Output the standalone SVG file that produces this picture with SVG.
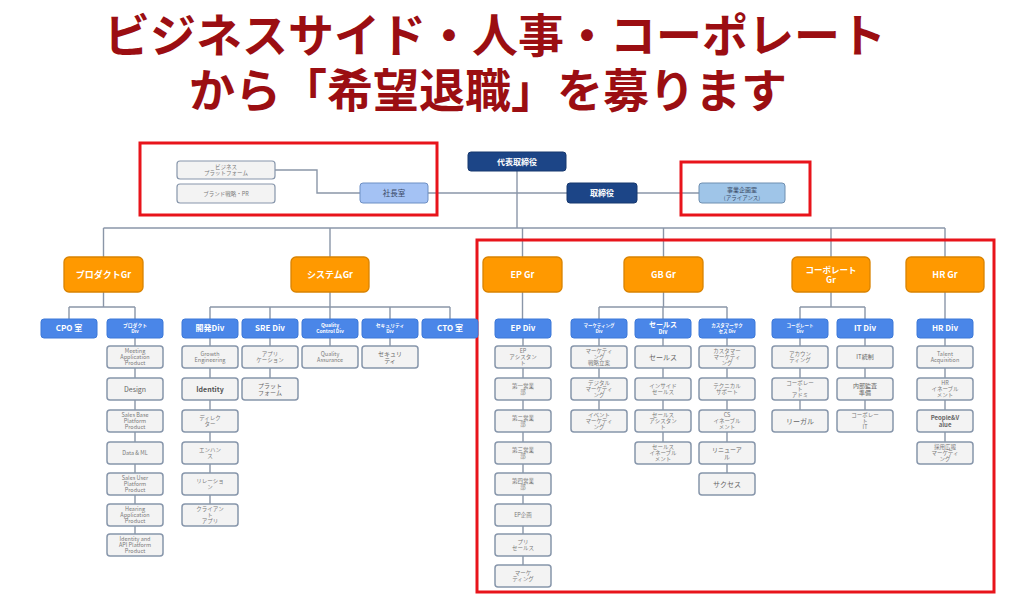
<svg xmlns="http://www.w3.org/2000/svg" width="1032" height="606" viewBox="0 0 1032 606">
<style>
text{font-family:"Noto Sans CJK JP","Noto Sans",sans-serif;text-anchor:middle}
.title{font-size:46px;font-weight:700;fill:#9b0e12}
.navy{fill:#1c4587;stroke:#16386e;stroke-width:1}
.wt{fill:#fff;font-weight:700}
.gr{fill:#ff9900;stroke:#d98300;stroke-width:1.3}
.div{fill:#4a86e8;stroke:#3c78d8;stroke-width:1}
.ch{fill:#f3f3f3;stroke:#8796ab;stroke-width:1.5}
.side{fill:#f3f3f3;stroke:#8796ab;stroke-width:1.2}
.t{font-size:5.5px;fill:#7a7a7a}
.tb{font-size:7px;fill:#555;font-weight:700}
.tl{font-size:7px;fill:#666}
.tm{font-size:6px;fill:#666}
.red{fill:none;stroke:#e8141b;stroke-width:3}
.ln{fill:none;stroke:#8a96a8;stroke-width:1.4}
</style>

<text class="title" x="495" y="52"><tspan x="495">ビジネスサイド・人事・コーポレート</tspan><tspan x="488" dy="55">から「希望退職」を募ります</tspan></text>

<g id="connectors">
<path class="ln" d="M275 170 H317 V193 H360"/>
<path class="ln" d="M428 193 H567"/>
<path class="ln" d="M637 193 H699"/>
<path class="ln" d="M517 171 V228"/>
<path class="ln" d="M103.5 228 H945"/>
<path class="ln" d="M103.5 228 V257 M330 228 V257 M522.5 228 V257 M663.5 228 V257 M831 228 V257 M945 228 V257"/>
<path class="ln" d="M103.5 292 V307 M69 307 H135 M69 307 V319 M135 307 V319"/>
<path class="ln" d="M330 292 V307 M210 307 H450 M210 307 V319 M270 307 V319 M330 307 V319 M390 307 V319 M450 307 V319"/>
<path class="ln" d="M522.5 292 V319"/>
<path class="ln" d="M663.5 292 V307 M599 307 H727 M599 307 V319 M663 307 V319 M727 307 V319"/>
<path class="ln" d="M831 292 V307 M800 307 H865 M800 307 V319 M865 307 V319"/>
<path class="ln" d="M945 292 V319"/>
<path class="ln" d="M135 338 V534 M210 338 V504 M270 338 V378 M330 338 V346 M390 338 V346 M523 338 V565 M599 338 V410 M663 338 V442 M727 338 V473 M800 338 V410 M865 338 V410 M945 338 V442"/>
</g>

<g id="red-frames">
<rect class="red" x="140" y="143" width="297" height="72"/>
<rect class="red" x="681" y="162" width="129" height="53"/>
<rect class="red" x="477" y="240" width="517" height="352"/>
</g>

<g id="top">
<g id="n-ceo"><rect class="navy" x="468" y="152" width="98" height="19" rx="3"/><text class="wt" x="517" y="164.5" font-size="8">代表取締役</text></g>
<g id="n-director"><rect class="navy" x="567" y="183" width="70" height="20" rx="3"/><text class="wt" x="602" y="196" font-size="8">取締役</text></g>
<g id="n-bizplan"><rect x="699" y="183" width="86" height="20" rx="3" fill="#9fc5e8" stroke="#6f8fb0" stroke-width="1"/><text x="742" y="191.5" font-size="6" fill="#3a4a66"><tspan x="742">事業企画室</tspan><tspan x="742" dy="8" font-size="5.5">(アライアンス)</tspan></text></g>
<g id="n-president"><rect x="360" y="183" width="68" height="20" rx="3" fill="#a4c2f4" stroke="#6d8fc4" stroke-width="1"/><text x="394" y="195.8" font-size="7.5" fill="#3a4a66">社長室</text></g>
<g id="n-bizpf"><rect class="side" x="177" y="161" width="98" height="18" rx="3"/><text class="t" x="226" y="168.5"><tspan x="226">ビジネス</tspan><tspan x="226" dy="6.3">プラットフォーム</tspan></text></g>
<g id="n-brand"><rect class="side" x="177" y="184" width="98" height="19" rx="3"/><text class="t" x="226" y="195.5">ブランド戦略・PR</text></g>
</g>

<g id="groups">
<g id="g-product"><rect class="gr" x="64" y="257" width="79" height="35" rx="5"/><text class="wt" x="103.5" y="277.6" font-size="9">プロダクトGr</text></g>
<g id="g-system"><rect class="gr" x="291" y="257" width="78" height="35" rx="5"/><text class="wt" x="330" y="277.6" font-size="9">システムGr</text></g>
<g id="g-ep"><rect class="gr" x="483" y="257" width="79" height="35" rx="5"/><text class="wt" x="522.5" y="277.6" font-size="9">EP Gr</text></g>
<g id="g-gb"><rect class="gr" x="624" y="257" width="79" height="35" rx="5"/><text class="wt" x="663.5" y="277.6" font-size="9">GB Gr</text></g>
<g id="g-corp"><rect class="gr" x="792" y="257" width="78" height="35" rx="5"/><text class="wt" x="831" y="272.5" font-size="8.5"><tspan x="831">コーポレート</tspan><tspan x="831" dy="10">Gr</tspan></text></g>
<g id="g-hr"><rect class="gr" x="906" y="257" width="78" height="35" rx="5"/><text class="wt" x="945" y="277.6" font-size="9">HR Gr</text></g>
</g>

<g id="divs">
<g id="d-cpo"><rect class="div" x="41" y="319" width="56" height="19" rx="3"/><text class="wt" x="69" y="331.3" font-size="8">CPO 室</text></g>
<g id="d-product"><rect class="div" x="107" y="319" width="56" height="19" rx="3"/><text class="wt" x="135" y="327.4" font-size="4.8"><tspan x="135">プロダクト</tspan><tspan x="135" dy="5.5">Div</tspan></text></g>
<g id="d-dev"><rect class="div" x="182" y="319" width="56" height="19" rx="3"/><text class="wt" x="210" y="331.3" font-size="8">開発Div</text></g>
<g id="d-sre"><rect class="div" x="242" y="319" width="56" height="19" rx="3"/><text class="wt" x="270" y="331.3" font-size="8">SRE Div</text></g>
<g id="d-qc"><rect class="div" x="302" y="319" width="56" height="19" rx="3"/><text class="wt" x="330" y="327.4" font-size="5"><tspan x="330">Quality</tspan><tspan x="330" dy="5.6">Control Div</tspan></text></g>
<g id="d-sec"><rect class="div" x="362" y="319" width="56" height="19" rx="3"/><text class="wt" x="390" y="327.4" font-size="4.8"><tspan x="390">セキュリティ</tspan><tspan x="390" dy="5.5">Div</tspan></text></g>
<g id="d-cto"><rect class="div" x="422" y="319" width="56" height="19" rx="3"/><text class="wt" x="450" y="331.3" font-size="8">CTO 室</text></g>
<g id="d-ep"><rect class="div" x="495" y="319" width="56" height="19" rx="3"/><text class="wt" x="523" y="331.3" font-size="8">EP Div</text></g>
<g id="d-mkt"><rect class="div" x="571" y="319" width="56" height="19" rx="3"/><text class="wt" x="599" y="327.4" font-size="4.5"><tspan x="599">マーケティング</tspan><tspan x="599" dy="5.5">Div</tspan></text></g>
<g id="d-sales"><rect class="div" x="635" y="319" width="56" height="19" rx="3"/><text class="wt" x="663" y="327" font-size="7"><tspan x="663">セールス</tspan><tspan x="663" dy="7" font-size="5.5">Div</tspan></text></g>
<g id="d-cs"><rect class="div" x="699" y="319" width="56" height="19" rx="3"/><text class="wt" x="727" y="327.4" font-size="4.5"><tspan x="727">カスタマーサク</tspan><tspan x="727" dy="5.5">セス Div</tspan></text></g>
<g id="d-corp"><rect class="div" x="772" y="319" width="56" height="19" rx="3"/><text class="wt" x="800" y="327.4" font-size="4.5"><tspan x="800">コーポレート</tspan><tspan x="800" dy="5.5">Div</tspan></text></g>
<g id="d-it"><rect class="div" x="837" y="319" width="56" height="19" rx="3"/><text class="wt" x="865" y="331.3" font-size="8">IT Div</text></g>
<g id="d-hr"><rect class="div" x="917" y="319" width="56" height="19" rx="3"/><text class="wt" x="945" y="331.3" font-size="8">HR Div</text></g>
</g>

<g id="product-children">
<g id="c-p1"><rect class="ch" x="107" y="346" width="56" height="22" rx="3"/><text class="t" x="135" y="352.6"><tspan x="135">Meeting</tspan><tspan x="135" dy="6.3">Application</tspan><tspan x="135" dy="6.3">Product</tspan></text></g>
<g id="c-p2"><rect class="ch" x="107" y="378" width="56" height="22" rx="3"/><text class="tl" x="135" y="391.5">Design</text></g>
<g id="c-p3"><rect class="ch" x="107" y="410" width="56" height="22" rx="3"/><text class="t" x="135" y="416.6"><tspan x="135">Sales Base</tspan><tspan x="135" dy="6.3">Platform</tspan><tspan x="135" dy="6.3">Product</tspan></text></g>
<g id="c-p4"><rect class="ch" x="107" y="442" width="56" height="22" rx="3"/><text class="t" x="135" y="454.9">Data &amp; ML</text></g>
<g id="c-p5"><rect class="ch" x="107" y="473" width="56" height="22" rx="3"/><text class="t" x="135" y="479.6"><tspan x="135">Sales User</tspan><tspan x="135" dy="6.3">Platform</tspan><tspan x="135" dy="6.3">Product</tspan></text></g>
<g id="c-p6"><rect class="ch" x="107" y="504" width="56" height="22" rx="3"/><text class="t" x="135" y="510.6"><tspan x="135">Hearing</tspan><tspan x="135" dy="6.3">Application</tspan><tspan x="135" dy="6.3">Product</tspan></text></g>
<g id="c-p7"><rect class="ch" x="107" y="534" width="56" height="22" rx="3"/><text class="t" x="135" y="540.6"><tspan x="135">Identity and</tspan><tspan x="135" dy="6.3">API Platform</tspan><tspan x="135" dy="6.3">Product</tspan></text></g>
</g>

<g id="system-children">
<g id="c-d1"><rect class="ch" x="182" y="346" width="56" height="22" rx="3"/><text class="t" x="210" y="355.75"><tspan x="210">Growth</tspan><tspan x="210" dy="6.3">Engineering</tspan></text></g>
<g id="c-d2"><rect class="ch" x="182" y="378" width="56" height="22" rx="3"/><text class="tb" x="210" y="391.5">Identity</text></g>
<g id="c-d3"><rect class="ch" x="182" y="410" width="56" height="22" rx="3"/><text class="t" x="210" y="419.75"><tspan x="210">ディレク</tspan><tspan x="210" dy="6.3">ター</tspan></text></g>
<g id="c-d4"><rect class="ch" x="182" y="442" width="56" height="22" rx="3"/><text class="t" x="210" y="451.75"><tspan x="210">エンハン</tspan><tspan x="210" dy="6.3">ス</tspan></text></g>
<g id="c-d5"><rect class="ch" x="182" y="473" width="56" height="22" rx="3"/><text class="t" x="210" y="482.75"><tspan x="210">リレーショ</tspan><tspan x="210" dy="6.3">ン</tspan></text></g>
<g id="c-d6"><rect class="ch" x="182" y="504" width="56" height="22" rx="3"/><text class="t" x="210" y="510.6"><tspan x="210">クライアン</tspan><tspan x="210" dy="6.3">ト</tspan><tspan x="210" dy="6.3">アプリ</tspan></text></g>
<g id="c-s1"><rect class="ch" x="242" y="346" width="56" height="22" rx="3"/><text class="t" x="270" y="355.75"><tspan x="270">アプリ</tspan><tspan x="270" dy="6.3">ケーション</tspan></text></g>
<g id="c-s2"><rect class="ch" x="242" y="378" width="56" height="22" rx="3"/><text class="tm" x="270" y="387.5"><tspan x="270">プラット</tspan><tspan x="270" dy="7.2">フォーム</tspan></text></g>
<g id="c-q1"><rect class="ch" x="302" y="346" width="56" height="22" rx="3"/><text class="t" x="330" y="355.75"><tspan x="330">Quality</tspan><tspan x="330" dy="6.3">Assurance</tspan></text></g>
<g id="c-sec1"><rect class="ch" x="362" y="346" width="56" height="22" rx="3"/><text class="tm" x="390" y="355.5"><tspan x="390">セキュリ</tspan><tspan x="390" dy="7.2">ティ</tspan></text></g>
</g>

<g id="ep-children">
<g id="c-e1"><rect class="ch" x="495" y="346" width="56" height="22" rx="3"/><text class="t" x="523" y="352.6"><tspan x="523">EP</tspan><tspan x="523" dy="6.3">アシスタン</tspan><tspan x="523" dy="6.3">ト</tspan></text></g>
<g id="c-e2"><rect class="ch" x="495" y="378" width="56" height="22" rx="3"/><text class="t" x="523" y="387.75"><tspan x="523">第一営業</tspan><tspan x="523" dy="6.3">部</tspan></text></g>
<g id="c-e3"><rect class="ch" x="495" y="410" width="56" height="22" rx="3"/><text class="t" x="523" y="419.75"><tspan x="523">第二営業</tspan><tspan x="523" dy="6.3">部</tspan></text></g>
<g id="c-e4"><rect class="ch" x="495" y="442" width="56" height="22" rx="3"/><text class="t" x="523" y="451.75"><tspan x="523">第三営業</tspan><tspan x="523" dy="6.3">部</tspan></text></g>
<g id="c-e5"><rect class="ch" x="495" y="473" width="56" height="22" rx="3"/><text class="t" x="523" y="482.75"><tspan x="523">第四営業</tspan><tspan x="523" dy="6.3">部</tspan></text></g>
<g id="c-e6"><rect class="ch" x="495" y="504" width="56" height="22" rx="3"/><text class="t" x="523" y="516.9">EP企画</text></g>
<g id="c-e7"><rect class="ch" x="495" y="534" width="56" height="22" rx="3"/><text class="t" x="523" y="543.75"><tspan x="523">プリ</tspan><tspan x="523" dy="6.3">セールス</tspan></text></g>
<g id="c-e8"><rect class="ch" x="495" y="565" width="56" height="22" rx="3"/><text class="t" x="523" y="574.75"><tspan x="523">マーケ</tspan><tspan x="523" dy="6.3">ティング</tspan></text></g>
</g>

<g id="gb-children">
<g id="c-m1"><rect class="ch" x="571" y="346" width="56" height="22" rx="3"/><text class="t" x="599" y="352.6"><tspan x="599">マーケティ</tspan><tspan x="599" dy="6.3">ング</tspan><tspan x="599" dy="6.3">戦略立案</tspan></text></g>
<g id="c-m2"><rect class="ch" x="571" y="378" width="56" height="22" rx="3"/><text class="t" x="599" y="384.6"><tspan x="599">デジタル</tspan><tspan x="599" dy="6.3">マーケティ</tspan><tspan x="599" dy="6.3">ング</tspan></text></g>
<g id="c-m3"><rect class="ch" x="571" y="410" width="56" height="22" rx="3"/><text class="t" x="599" y="416.6"><tspan x="599">イベント</tspan><tspan x="599" dy="6.3">マーケティ</tspan><tspan x="599" dy="6.3">ング</tspan></text></g>
<g id="c-sa1"><rect class="ch" x="635" y="346" width="56" height="22" rx="3"/><text class="tl" x="663" y="359.5">セールス</text></g>
<g id="c-sa2"><rect class="ch" x="635" y="378" width="56" height="22" rx="3"/><text class="t" x="663" y="387.75"><tspan x="663">インサイド</tspan><tspan x="663" dy="6.3">セールス</tspan></text></g>
<g id="c-sa3"><rect class="ch" x="635" y="410" width="56" height="22" rx="3"/><text class="t" x="663" y="416.6"><tspan x="663">セールス</tspan><tspan x="663" dy="6.3">アシスタン</tspan><tspan x="663" dy="6.3">ト</tspan></text></g>
<g id="c-sa4"><rect class="ch" x="635" y="442" width="56" height="22" rx="3"/><text class="t" x="663" y="448.6"><tspan x="663">セールス</tspan><tspan x="663" dy="6.3">イネーブル</tspan><tspan x="663" dy="6.3">メント</tspan></text></g>
<g id="c-cs1"><rect class="ch" x="699" y="346" width="56" height="22" rx="3"/><text class="t" x="727" y="352.6"><tspan x="727">カスタマー</tspan><tspan x="727" dy="6.3">マーケティ</tspan><tspan x="727" dy="6.3">ング</tspan></text></g>
<g id="c-cs2"><rect class="ch" x="699" y="378" width="56" height="22" rx="3"/><text class="t" x="727" y="387.75"><tspan x="727">テクニカル</tspan><tspan x="727" dy="6.3">サポート</tspan></text></g>
<g id="c-cs3"><rect class="ch" x="699" y="410" width="56" height="22" rx="3"/><text class="t" x="727" y="416.6"><tspan x="727">CS</tspan><tspan x="727" dy="6.3">イネーブル</tspan><tspan x="727" dy="6.3">メント</tspan></text></g>
<g id="c-cs4"><rect class="ch" x="699" y="442" width="56" height="22" rx="3"/><text class="tm" x="727" y="451.5"><tspan x="727">リニューア</tspan><tspan x="727" dy="7.2">ル</tspan></text></g>
<g id="c-cs5"><rect class="ch" x="699" y="473" width="56" height="22" rx="3"/><text class="tl" x="727" y="486.5">サクセス</text></g>
</g>

<g id="corp-children">
<g id="c-c1"><rect class="ch" x="772" y="346" width="56" height="22" rx="3"/><text class="t" x="800" y="355.75"><tspan x="800">アカウン</tspan><tspan x="800" dy="6.3">ティング</tspan></text></g>
<g id="c-c2"><rect class="ch" x="772" y="378" width="56" height="22" rx="3"/><text class="t" x="800" y="384.6"><tspan x="800">コーポレー</tspan><tspan x="800" dy="6.3">ト</tspan><tspan x="800" dy="6.3">アドミ</tspan></text></g>
<g id="c-c3"><rect class="ch" x="772" y="410" width="56" height="22" rx="3"/><text class="tl" x="800" y="423.5">リーガル</text></g>
<g id="c-it1"><rect class="ch" x="837" y="346" width="56" height="22" rx="3"/><text class="tm" x="865" y="359.1" fill="#555">IT統制</text></g>
<g id="c-it2"><rect class="ch" x="837" y="378" width="56" height="22" rx="3"/><text class="tm" x="865" y="387.5" fill="#555"><tspan x="865">内部監査</tspan><tspan x="865" dy="7.2">準備</tspan></text></g>
<g id="c-it3"><rect class="ch" x="837" y="410" width="56" height="22" rx="3"/><text class="t" x="865" y="416.6"><tspan x="865">コーポレー</tspan><tspan x="865" dy="6.3">ト</tspan><tspan x="865" dy="6.3">IT</tspan></text></g>
<g id="c-h1"><rect class="ch" x="917" y="346" width="56" height="22" rx="3"/><text class="t" x="945" y="355.75"><tspan x="945">Talent</tspan><tspan x="945" dy="6.3">Acquisition</tspan></text></g>
<g id="c-h2"><rect class="ch" x="917" y="378" width="56" height="22" rx="3"/><text class="t" x="945" y="384.6"><tspan x="945">HR</tspan><tspan x="945" dy="6.3">イネーブル</tspan><tspan x="945" dy="6.3">メント</tspan></text></g>
<g id="c-h3"><rect class="ch" x="917" y="410" width="56" height="22" rx="3"/><text class="tm" x="945" y="419.5" fill="#444" font-weight="700"><tspan x="945">People&amp;V</tspan><tspan x="945" dy="7.2">alue</tspan></text></g>
<g id="c-h4"><rect class="ch" x="917" y="442" width="56" height="22" rx="3"/><text class="t" x="945" y="448.6"><tspan x="945">採用広報</tspan><tspan x="945" dy="6.3">マーケティ</tspan><tspan x="945" dy="6.3">ング</tspan></text></g>
</g>
</svg>
